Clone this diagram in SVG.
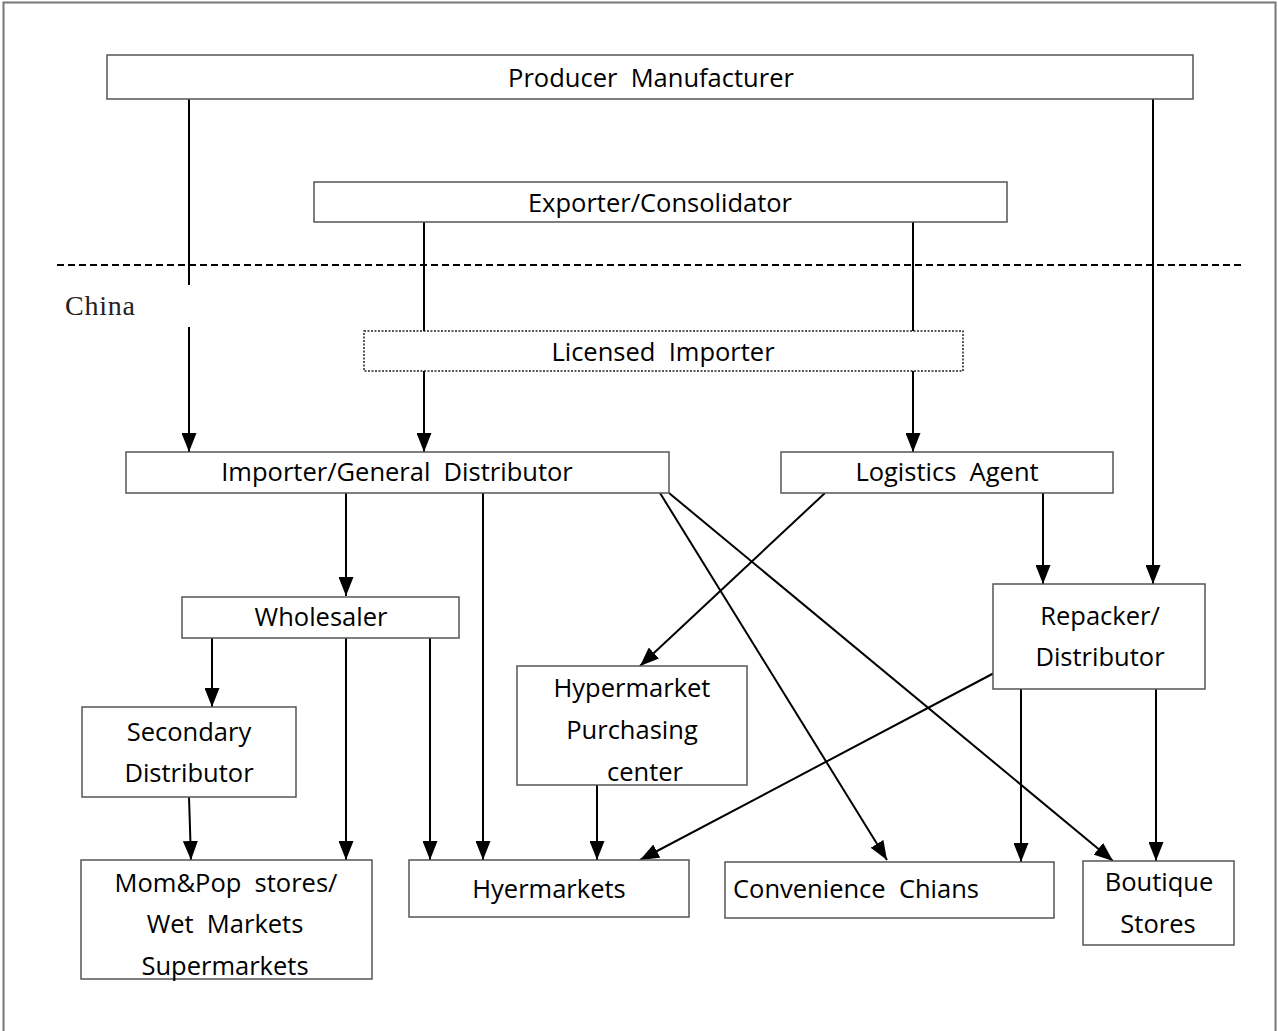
<svg xmlns="http://www.w3.org/2000/svg" width="1278" height="1031" viewBox="0 0 1278 1031">
<style>
.box{fill:#fff;stroke:#555;stroke-width:1.5}
.dot{fill:#fff;stroke:#222;stroke-width:1.5;stroke-dasharray:2 1.5}
.t{font-family:"Open Sans","Noto Sans",sans-serif;font-size:25.5px;fill:#000;text-anchor:middle;dominant-baseline:central;white-space:pre}
.c{fill:none;stroke:#000;stroke-width:2}
</style>
<defs>
<marker id="ah" viewBox="0 0 19 15" refX="19" refY="7.5" markerWidth="19" markerHeight="15" markerUnits="userSpaceOnUse" orient="auto">
<path d="M0,0 L19,7.5 L0,15 Z" fill="#000"/>
</marker>
</defs>
<rect x="0" y="0" width="1278" height="1031" fill="#fff"/>
<rect x="3.5" y="2.5" width="1272" height="1060" fill="none" stroke="#777" stroke-width="2"/>
<line x1="57" y1="265" x2="1245" y2="265" stroke="#000" stroke-width="1.8" stroke-dasharray="7 4"/>
<text x="65" y="315" style="font-family:'Liberation Serif','DejaVu Serif',serif;font-size:28px;fill:#222" textLength="70">China</text>

<g id="connectors">
<path class="c" d="M189,99 V285 M189,327 V452" marker-end="url(#ah)"/>
<path class="c" d="M1153,99 V584" marker-end="url(#ah)"/>
<path class="c" d="M424,222 V331"/>
<path class="c" d="M913,222 V331"/>
<path class="c" d="M424,371 V452" marker-end="url(#ah)"/>
<path class="c" d="M913,371 V452" marker-end="url(#ah)"/>
<path class="c" d="M346,493 V596" marker-end="url(#ah)"/>
<path class="c" d="M483,493 V860" marker-end="url(#ah)"/>
<path class="c" d="M660,493 L887,860" marker-end="url(#ah)"/>
<path class="c" d="M669,493 L1113,861" marker-end="url(#ah)"/>
<path class="c" d="M825,493 L640,666" marker-end="url(#ah)"/>
<path class="c" d="M1043,493 V584" marker-end="url(#ah)"/>
<path class="c" d="M212,638 V707" marker-end="url(#ah)"/>
<path class="c" d="M346,638 V860" marker-end="url(#ah)"/>
<path class="c" d="M430,638 V860" marker-end="url(#ah)"/>
<path class="c" d="M189,797 L191,860" marker-end="url(#ah)"/>
<path class="c" d="M597,785 V860" marker-end="url(#ah)"/>
<path class="c" d="M996,672 L640,860" marker-end="url(#ah)"/>
<path class="c" d="M1021,689 V862" marker-end="url(#ah)"/>
<path class="c" d="M1156,689 V861" marker-end="url(#ah)"/>
</g>

<g id="producer"><rect class="box" x="107" y="55" width="1086" height="44"/><text class="t" x="651" y="77">Producer  Manufacturer</text></g>
<g id="exporter"><rect class="box" x="314" y="182" width="693" height="40"/><text class="t" x="660" y="202">Exporter/Consolidator</text></g>
<g id="licensed"><rect class="dot" x="364" y="331" width="599" height="40"/><text class="t" x="663" y="351">Licensed  Importer</text></g>
<g id="importer"><rect class="box" x="126" y="452" width="543" height="41"/><text class="t" x="397" y="471">Importer/General  Distributor</text></g>
<g id="logistics"><rect class="box" x="781" y="452" width="332" height="41"/><text class="t" x="947" y="471">Logistics  Agent</text></g>
<g id="wholesaler"><rect class="box" x="182" y="597" width="277" height="41"/><text class="t" x="321" y="616">Wholesaler</text></g>
<g id="repacker"><rect class="box" x="993" y="584" width="212" height="105"/><text class="t" x="1100" y="615">Repacker/</text><text class="t" x="1100" y="656">Distributor</text></g>
<g id="hyperpc"><rect class="box" x="517" y="666" width="230" height="119"/><text class="t" x="632" y="687">Hypermarket</text><text class="t" x="632" y="729">Purchasing</text><text class="t" x="645" y="771">center</text></g>
<g id="secondary"><rect class="box" x="82" y="707" width="214" height="90"/><text class="t" x="189" y="731">Secondary</text><text class="t" x="189" y="772">Distributor</text></g>
<g id="mompop"><rect class="box" x="81" y="860" width="291" height="119"/><text class="t" x="226" y="882">Mom&amp;Pop  stores/</text><text class="t" x="225" y="923">Wet  Markets</text><text class="t" x="225" y="965">Supermarkets</text></g>
<g id="hyermarkets"><rect class="box" x="409" y="860" width="280" height="57"/><text class="t" x="549" y="888">Hyermarkets</text></g>
<g id="convenience"><rect class="box" x="725" y="862" width="329" height="56"/><text class="t" x="856" y="888">Convenience  Chians</text></g>
<g id="boutique"><rect class="box" x="1083" y="861" width="151" height="84"/><text class="t" x="1159" y="881">Boutique</text><text class="t" x="1158" y="923">Stores</text></g>
</svg>
